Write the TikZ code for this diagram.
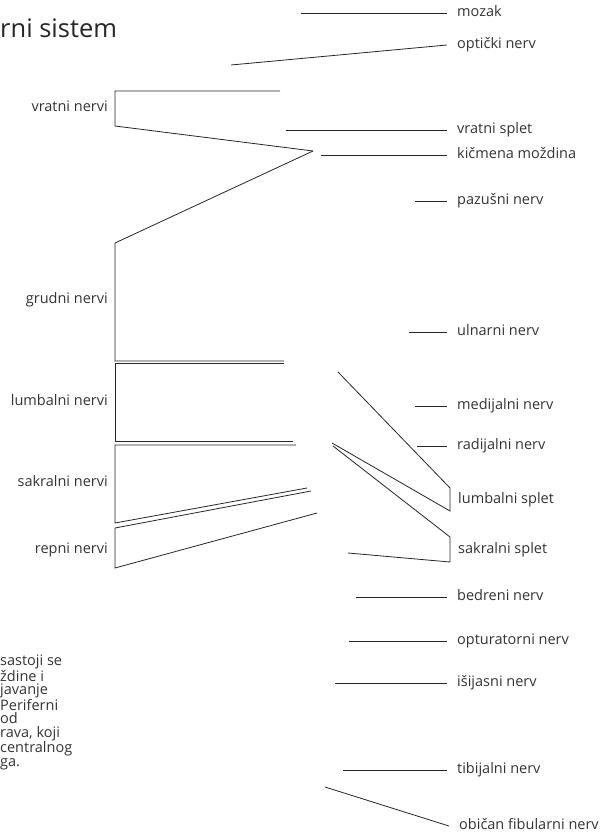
\documentclass[tikz,border=0pt]{standalone}
\usepackage{fontspec}
\setmainfont{Open Sans}
\usetikzlibrary{positioning,calc}

\begin{document}
\begin{tikzpicture}[
  x=1pt, y=-1pt,
  nerve/.style={draw=black!85, line width=0.8pt},
  lbl/.style={anchor=west, inner xsep=10pt, inner ysep=0pt,
              font=\fontsize{14.5}{14}\selectfont, text=black!80,
              text height=7.8pt, text depth=0pt},
  leftlbl/.style={lbl, anchor=east, inner xsep=7pt},
  splet/.style={lbl, inner xsep=8pt}
]
  \useasboundingbox (0,0) rectangle (609,837);

  % Title and note (cut at the left edge)
  \node[anchor=base west, inner sep=0pt, font=\fontsize{25.5}{28}\selectfont,
    text=black!85] (title) at (0,38) {rni sistem};
  \node[anchor=north west, inner sep=0pt, align=left, text=black!80,
    font=\fontsize{14.5}{13.4}\selectfont] (note) at (0,655)
    {sastoji se\\ždine i\\javanje\\Periferni\\od\\rava, koji\\centralnog\\ga.};

  % Right labels
  \node[lbl] (mozak) at (447,13) {mozak};
  \node[lbl] (opticki) at (447,45) {optički nerv};
  \node[lbl] (vsplet) at (447,130) {vratni splet};
  \node[lbl] (kicmena) at (447,155) {kičmena moždina};
  \node[lbl] (pazusni) at (447,201) {pazušni nerv};
  \node[lbl] (ulnarni) at (447,332) {ulnarni nerv};
  \node[lbl] (medijalni) at (447,406) {medijalni nerv};
  \node[lbl] (radijalni) at (447,446) {radijalni nerv};
  \node[splet] (lsplet) at (450,500) {lumbalni splet};
  \node[splet] (ssplet) at (450,550) {sakralni splet};
  \node[lbl] (bedreni) at (447,597) {bedreni nerv};
  \node[lbl] (opturatorni) at (447,641) {opturatorni nerv};
  \node[lbl] (isijasni) at (447,683) {išijasni nerv};
  \node[lbl] (tibijalni) at (447,770) {tibijalni nerv};
  \node[lbl, inner xsep=12pt] (fibularni) at (447,826) {običan fibularni nerv};

  % Left labels
  \node[leftlbl] (vratni) at (115,108) {vratni nervi};
  \node[leftlbl] (grudni) at (115,300) {grudni nervi};
  \node[leftlbl] (lumbalni) at (115,402) {lumbalni nervi};
  \node[leftlbl] (sakralni) at (115,483) {sakralni nervi};
  \node[leftlbl] (repni) at (115,550) {repni nervi};

  % Free ends of the pointers
  \coordinate (mozakE) at (301,13);
  \coordinate (optickiE) at (231,65);
  \coordinate (vspletE) at (286,130);
  \coordinate (kicmenaE) at (321,155);
  \coordinate (pazusniE) at (415,201);
  \coordinate (ulnarniE) at (409,332);
  \coordinate (medijalniE) at (415,406);
  \coordinate (radijalniE) at (417,446);
  \coordinate (bedreniE) at (356,597);
  \coordinate (opturatorniE) at (349,641);
  \coordinate (isijasniE) at (335,683);
  \coordinate (tibijalniE) at (343,770);
  \coordinate (fibularniE) at (325,787);

  \draw[nerve] (mozakE) -- (mozak.west);
  \draw[nerve] (optickiE) -- (opticki.west);
  \draw[nerve] (vspletE) -- (vsplet.west);
  \draw[nerve] (kicmenaE) -- (kicmena.west);
  \draw[nerve] (pazusniE) -- (pazusni.west);
  \draw[nerve] (ulnarniE) -- (ulnarni.west);
  \draw[nerve] (medijalniE) -- (medijalni.west);
  \draw[nerve] (radijalniE) -- (radijalni.west);
  \draw[nerve] (bedreniE) -- (bedreni.west);
  \draw[nerve] (opturatorniE) -- (opturatorni.west);
  \draw[nerve] (isijasniE) -- (isijasni.west);
  \draw[nerve] (tibijalniE) -- (tibijalni.west);
  \draw[nerve] (fibularniE) -- ($(fibularni.west)+(2,0)$);

  % Spinal nerve brackets
  \coordinate (spine) at (313,151);
  \draw[nerve] (280,91) -- (115,91) -- (115,126) -- (spine);
  \draw[nerve] (spine) -- (115,243) -- (115,361) -- (284,361);
  \draw[nerve] (284,363.5) -- (115,363.5) -- (115,441) -- (293,441);
  \draw[nerve] (296,445) -- (115,445) -- (115,523) -- (307,488);
  \draw[nerve] (311,491) -- (115,528) -- (115,568) -- (317,513);

  % Plexus brackets
  \draw[nerve] (338,372) -- (450,488) -- (450,511) -- (332,443);
  \draw[nerve] (333,446) -- (450,537) -- (450,562) -- (348,553);
\end{tikzpicture}
\end{document}
